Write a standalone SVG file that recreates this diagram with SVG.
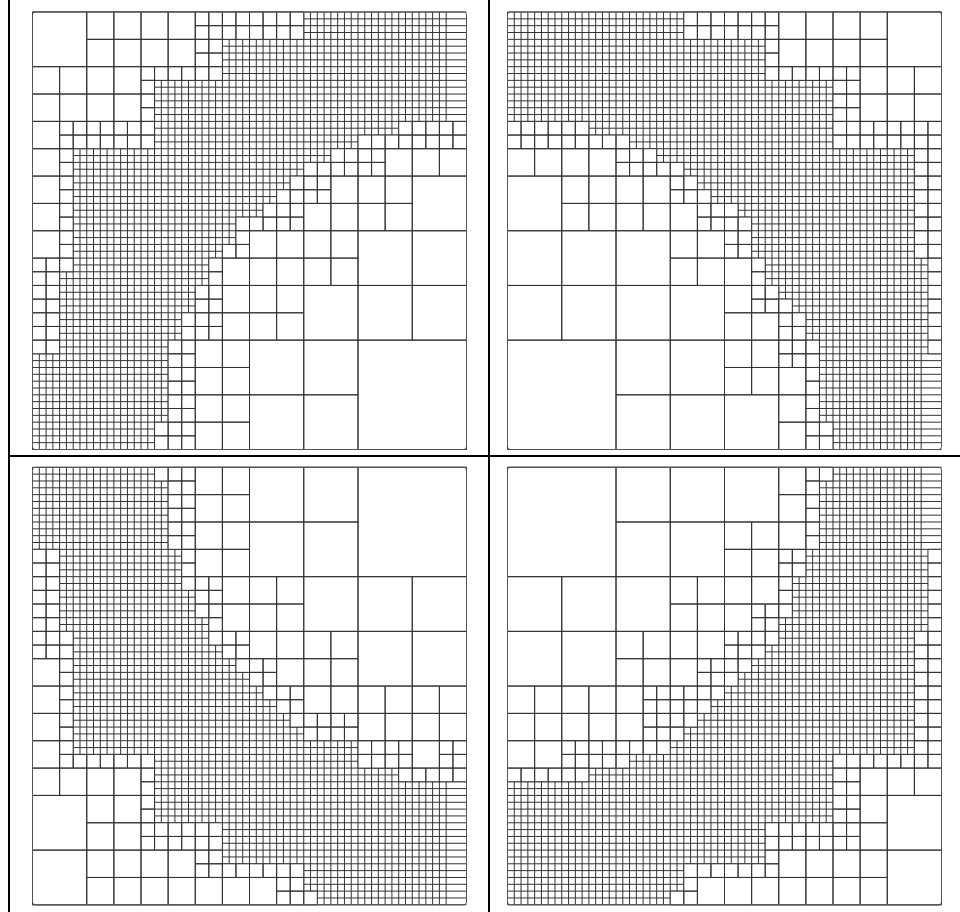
<svg xmlns="http://www.w3.org/2000/svg" xmlns:xlink="http://www.w3.org/1999/xlink" width="960" height="912" viewBox="0 0 960 912">
<style>
.g{fill:none;stroke:#333;stroke-width:1;vector-effect:non-scaling-stroke}
.c{fill:#fff;stroke:#333;stroke-width:1;vector-effect:non-scaling-stroke}
.b{fill:none;stroke:#555;stroke-width:1;vector-effect:non-scaling-stroke}
.t{stroke:#000;stroke-width:2}
</style>
<defs>
<path id="grid" class="g" d="M0 0v64m1-64v64m1-64v64m1-64v64m1-64v64m1-64v64m1-64v64m1-64v64m1-64v64m1-64v64m1-64v64m1-64v64m1-64v64m1-64v64m1-64v64m1-64v64m1-64v64m1-64v64m1-64v64m1-64v64m1-64v64m1-64v64m1-64v64m1-64v64m1-64v64m1-64v64m1-64v64m1-64v64m1-64v64m1-64v64m1-64v64m1-64v64m1-64v64m1-64v64m1-64v64m1-64v64m1-64v64m1-64v64m1-64v64m1-64v64m1-64v64m1-64v64m1-64v64m1-64v64m1-64v64m1-64v64m1-64v64m1-64v64m1-64v64m1-64v64m1-64v64m1-64v64m1-64v64m1-64v64m1-64v64m1-64v64m1-64v64m1-64v64m1-64v64m1-64v64m1-64v64m1-64v64M0 0h64m-64 1h64m-64 1h64m-64 1h64m-64 1h64m-64 1h64m-64 1h64m-64 1h64m-64 1h64m-64 1h64m-64 1h64m-64 1h64m-64 1h64m-64 1h64m-64 1h64m-64 1h64m-64 1h64m-64 1h64m-64 1h64m-64 1h64m-64 1h64m-64 1h64m-64 1h64m-64 1h64m-64 1h64m-64 1h64m-64 1h64m-64 1h64m-64 1h64m-64 1h64m-64 1h64m-64 1h64m-64 1h64m-64 1h64m-64 1h64m-64 1h64m-64 1h64m-64 1h64m-64 1h64m-64 1h64m-64 1h64m-64 1h64m-64 1h64m-64 1h64m-64 1h64m-64 1h64m-64 1h64m-64 1h64m-64 1h64m-64 1h64m-64 1h64m-64 1h64m-64 1h64m-64 1h64m-64 1h64m-64 1h64m-64 1h64m-64 1h64m-64 1h64m-64 1h64m-64 1h64m-64 1h64m-64 1h64m-64 1h64m-64 1h64"/>
</defs>
<g id="table">
<line class="t" x1="9" y1="0" x2="9" y2="912"/>
<line class="t" x1="489" y1="0" x2="489" y2="912"/>
<line class="t" x1="8" y1="456" x2="960" y2="456"/>
</g>
<g id="panel1" transform="translate(32.5,12) scale(6.78125,6.836)">
<use href="#grid"/>
<path class="c" d="M0 0h8v8h-8zM56 24h8v8h-8zM48 32h8v8h-8zM56 32h8v8h-8zM40 40h8v8h-8zM48 40h8v8h-8zM56 40h8v8h-8zM32 48h8v8h-8zM40 48h8v8h-8zM32 56h8v8h-8zM40 56h8v8h-8zM48 48h16v16h-16z
M8 0h4v4h-4zM12 0h4v4h-4zM16 0h4v4h-4zM20 0h4v4h-4zM8 4h4v4h-4zM12 4h4v4h-4zM16 4h4v4h-4zM20 4h4v4h-4z
M0 8h4v4h-4zM4 8h4v4h-4zM8 8h4v4h-4zM12 8h4v4h-4zM0 12h4v4h-4zM4 12h4v4h-4zM8 12h4v4h-4zM12 12h4v4h-4z
M0 16h4v4h-4zM0 20h4v4h-4zM0 24h4v4h-4zM0 28h4v4h-4zM0 32h4v4h-4z
M52 20h4v4h-4zM56 20h4v4h-4zM60 20h4v4h-4zM44 24h4v4h-4zM48 24h4v4h-4zM52 24h4v4h-4zM40 28h4v4h-4zM44 28h4v4h-4zM48 28h4v4h-4zM52 28h4v4h-4z
M32 32h4v4h-4zM36 32h4v4h-4zM40 32h4v4h-4zM44 32h4v4h-4zM28 36h4v4h-4zM32 36h4v4h-4zM36 36h4v4h-4zM40 36h4v4h-4zM44 36h4v4h-4z
M28 40h4v4h-4zM32 40h4v4h-4zM36 40h4v4h-4zM28 44h4v4h-4zM32 44h4v4h-4zM36 44h4v4h-4z
M24 48h4v4h-4zM28 48h4v4h-4zM24 52h4v4h-4zM28 52h4v4h-4zM24 56h4v4h-4zM28 56h4v4h-4zM24 60h4v4h-4zM28 60h4v4h-4z
M24 0h2v2h-2zM26 0h2v2h-2zM28 0h2v2h-2zM30 0h2v2h-2zM32 0h2v2h-2zM34 0h2v2h-2zM36 0h2v2h-2zM38 0h2v2h-2z
M24 2h2v2h-2zM26 2h2v2h-2zM28 2h2v2h-2zM30 2h2v2h-2zM32 2h2v2h-2zM34 2h2v2h-2zM36 2h2v2h-2zM38 2h2v2h-2z
M24 4h2v2h-2zM26 4h2v2h-2zM24 6h2v2h-2zM26 6h2v2h-2z
M16 8h2v2h-2zM18 8h2v2h-2zM20 8h2v2h-2zM22 8h2v2h-2zM24 8h2v2h-2zM26 8h2v2h-2zM16 10h2v2h-2zM16 12h2v2h-2zM16 14h2v2h-2z
M4 16h2v2h-2zM6 16h2v2h-2zM8 16h2v2h-2zM10 16h2v2h-2zM12 16h2v2h-2zM14 16h2v2h-2zM16 16h2v2h-2z
M4 18h2v2h-2zM6 18h2v2h-2zM8 18h2v2h-2zM10 18h2v2h-2zM12 18h2v2h-2zM14 18h2v2h-2zM16 18h2v2h-2z
M54 16h2v2h-2zM56 16h2v2h-2zM58 16h2v2h-2zM60 16h2v2h-2zM62 16h2v2h-2z
M48 18h2v2h-2zM50 18h2v2h-2zM52 18h2v2h-2zM54 18h2v2h-2zM56 18h2v2h-2zM58 18h2v2h-2zM60 18h2v2h-2zM62 18h2v2h-2z
M4 20h2v2h-2zM4 22h2v2h-2zM4 24h2v2h-2zM4 26h2v2h-2zM4 28h2v2h-2zM4 30h2v2h-2zM4 32h2v2h-2zM4 34h2v2h-2zM4 36h2v2h-2z
M44 20h2v2h-2zM46 20h2v2h-2zM48 20h2v2h-2zM50 20h2v2h-2zM40 22h2v2h-2zM42 22h2v2h-2zM44 22h2v2h-2zM46 22h2v2h-2zM48 22h2v2h-2zM50 22h2v2h-2z
M38 24h2v2h-2zM40 24h2v2h-2zM42 24h2v2h-2zM36 26h2v2h-2zM38 26h2v2h-2zM40 26h2v2h-2zM42 26h2v2h-2z
M34 28h2v2h-2zM36 28h2v2h-2zM38 28h2v2h-2zM30 30h2v2h-2zM32 30h2v2h-2zM34 30h2v2h-2zM36 30h2v2h-2zM38 30h2v2h-2z
M30 32h2v2h-2zM28 34h2v2h-2zM30 34h2v2h-2zM26 36h2v2h-2zM26 38h2v2h-2z
M0 36h2v2h-2zM2 36h2v2h-2zM0 38h2v2h-2zM2 38h2v2h-2zM0 40h2v2h-2zM2 40h2v2h-2zM0 42h2v2h-2zM2 42h2v2h-2zM0 44h2v2h-2zM2 44h2v2h-2zM0 46h2v2h-2zM2 46h2v2h-2zM0 48h2v2h-2zM2 48h2v2h-2z
M24 40h2v2h-2zM26 40h2v2h-2zM24 42h2v2h-2zM26 42h2v2h-2zM22 44h2v2h-2zM24 44h2v2h-2zM26 44h2v2h-2zM22 46h2v2h-2zM24 46h2v2h-2zM26 46h2v2h-2z
M20 48h2v2h-2zM22 48h2v2h-2zM20 50h2v2h-2zM22 50h2v2h-2zM20 52h2v2h-2zM22 52h2v2h-2zM20 54h2v2h-2zM22 54h2v2h-2zM20 56h2v2h-2zM22 56h2v2h-2zM20 58h2v2h-2zM22 58h2v2h-2zM18 60h2v2h-2zM20 60h2v2h-2zM22 60h2v2h-2zM18 62h2v2h-2zM20 62h2v2h-2zM22 62h2v2h-2z"/>
<rect class="b" width="64" height="64" rx="0.4"/>
</g>
<g id="panel2" transform="translate(507.5,12) scale(6.78125,6.836)">
<use href="#grid"/>
<path class="c" d="M0 48h16v16h-16zM56 0h8v8h-8zM0 24h8v8h-8zM0 32h8v8h-8zM8 32h8v8h-8zM16 32h8v8h-8zM0 40h8v8h-8zM8 40h8v8h-8zM16 40h8v8h-8zM24 40h8v8h-8zM16 48h8v8h-8zM24 48h8v8h-8zM16 56h8v8h-8zM24 56h8v8h-8zM32 56h8v8h-8z
M40 0h4v4h-4zM44 0h4v4h-4zM48 0h4v4h-4zM52 0h4v4h-4zM40 4h4v4h-4zM44 4h4v4h-4zM48 4h4v4h-4zM52 4h4v4h-4zM52 8h4v4h-4zM56 8h4v4h-4zM60 8h4v4h-4zM52 12h4v4h-4zM56 12h4v4h-4zM60 12h4v4h-4z
M0 20h4v4h-4zM4 20h4v4h-4zM8 20h4v4h-4zM12 20h4v4h-4zM8 24h4v4h-4zM12 24h4v4h-4zM8 28h4v4h-4zM12 28h4v4h-4zM16 24h4v4h-4zM20 24h4v4h-4zM16 28h4v4h-4zM20 28h4v4h-4zM24 28h4v4h-4z
M24 32h4v4h-4zM28 32h4v4h-4zM24 36h4v4h-4zM28 36h4v4h-4zM32 36h4v4h-4zM32 40h4v4h-4zM32 44h4v4h-4zM36 44h4v4h-4zM32 48h4v4h-4zM36 48h4v4h-4zM32 52h4v4h-4zM36 52h4v4h-4zM40 52h4v4h-4zM40 56h4v4h-4zM40 60h4v4h-4z
M26 0h2v2h-2zM28 0h2v2h-2zM30 0h2v2h-2zM32 0h2v2h-2zM34 0h2v2h-2zM36 0h2v2h-2zM38 0h2v2h-2zM26 2h2v2h-2zM28 2h2v2h-2zM30 2h2v2h-2zM32 2h2v2h-2zM34 2h2v2h-2zM36 2h2v2h-2zM38 2h2v2h-2zM38 4h2v2h-2zM38 6h2v2h-2z
M38 8h2v2h-2zM40 8h2v2h-2zM42 8h2v2h-2zM44 8h2v2h-2zM46 8h2v2h-2zM48 8h2v2h-2zM50 8h2v2h-2zM48 10h2v2h-2zM50 10h2v2h-2zM48 12h2v2h-2zM50 12h2v2h-2zM48 14h2v2h-2zM50 14h2v2h-2z
M0 16h2v2h-2zM2 16h2v2h-2zM4 16h2v2h-2zM6 16h2v2h-2zM8 16h2v2h-2zM10 16h2v2h-2zM0 18h2v2h-2zM2 18h2v2h-2zM4 18h2v2h-2zM6 18h2v2h-2zM8 18h2v2h-2zM10 18h2v2h-2zM12 18h2v2h-2zM14 18h2v2h-2zM16 18h2v2h-2z
M48 16h2v2h-2zM50 16h2v2h-2zM52 16h2v2h-2zM54 16h2v2h-2zM56 16h2v2h-2zM58 16h2v2h-2zM60 16h2v2h-2zM62 16h2v2h-2zM48 18h2v2h-2zM50 18h2v2h-2zM52 18h2v2h-2zM54 18h2v2h-2zM56 18h2v2h-2zM58 18h2v2h-2zM60 18h2v2h-2zM62 18h2v2h-2z
M16 20h2v2h-2zM18 20h2v2h-2zM20 20h2v2h-2zM16 22h2v2h-2zM18 22h2v2h-2zM20 22h2v2h-2zM22 22h2v2h-2zM24 22h2v2h-2zM60 20h2v2h-2zM62 20h2v2h-2zM60 22h2v2h-2zM62 22h2v2h-2z
M24 24h2v2h-2zM26 24h2v2h-2zM24 26h2v2h-2zM26 26h2v2h-2zM28 26h2v2h-2zM28 28h2v2h-2zM30 28h2v2h-2zM32 28h2v2h-2zM28 30h2v2h-2zM30 30h2v2h-2zM32 30h2v2h-2zM34 30h2v2h-2z
M60 24h2v2h-2zM62 24h2v2h-2zM60 26h2v2h-2zM62 26h2v2h-2zM60 28h2v2h-2zM62 28h2v2h-2zM60 30h2v2h-2zM62 30h2v2h-2zM60 32h2v2h-2zM62 32h2v2h-2zM60 34h2v2h-2zM62 34h2v2h-2zM62 36h2v2h-2zM62 38h2v2h-2zM62 40h2v2h-2z
M32 32h2v2h-2zM34 32h2v2h-2zM32 34h2v2h-2zM34 34h2v2h-2zM36 36h2v2h-2zM36 38h2v2h-2z
M36 40h2v2h-2zM38 40h2v2h-2zM36 42h2v2h-2zM38 42h2v2h-2zM40 42h2v2h-2zM62 42h2v2h-2zM40 44h2v2h-2zM42 44h2v2h-2zM40 46h2v2h-2zM42 46h2v2h-2zM62 44h2v2h-2zM62 46h2v2h-2zM62 48h2v2h-2z
M40 48h2v2h-2zM42 48h2v2h-2zM40 50h2v2h-2zM42 50h2v2h-2zM44 48h2v2h-2zM44 50h2v2h-2zM44 52h2v2h-2zM44 54h2v2h-2zM44 56h2v2h-2zM44 58h2v2h-2zM44 60h2v2h-2zM46 60h2v2h-2zM44 62h2v2h-2zM46 62h2v2h-2z"/>
<rect class="b" width="64" height="64" rx="0.4"/>
</g>
<g id="panel3" transform="translate(32.5,467.3) scale(6.78125,6.836)">
<use href="#grid"/>
<path class="c" d="M48 0h16v16h-16zM32 0h8v8h-8zM40 0h8v8h-8zM32 8h8v8h-8zM40 8h8v8h-8zM40 16h8v8h-8zM48 16h8v8h-8zM56 16h8v8h-8zM48 24h8v8h-8zM56 24h8v8h-8zM0 48h8v8h-8zM0 56h8v8h-8z
M24 0h4v4h-4zM28 0h4v4h-4zM24 4h4v4h-4zM28 4h4v4h-4zM24 8h4v4h-4zM28 8h4v4h-4zM24 12h4v4h-4zM28 12h4v4h-4zM28 16h4v4h-4zM32 16h4v4h-4zM36 16h4v4h-4zM28 20h4v4h-4zM32 20h4v4h-4zM36 20h4v4h-4z
M32 24h4v4h-4zM36 24h4v4h-4zM40 24h4v4h-4zM44 24h4v4h-4zM36 28h4v4h-4zM40 28h4v4h-4zM44 28h4v4h-4zM0 28h4v4h-4zM0 32h4v4h-4zM0 36h4v4h-4zM0 40h4v4h-4z
M40 32h4v4h-4zM44 32h4v4h-4zM48 32h4v4h-4zM52 32h4v4h-4zM56 32h4v4h-4zM60 32h4v4h-4zM48 36h4v4h-4zM52 36h4v4h-4zM56 36h4v4h-4zM60 36h4v4h-4zM56 40h4v4h-4z
M0 44h4v4h-4zM4 44h4v4h-4zM8 44h4v4h-4zM12 44h4v4h-4zM8 48h4v4h-4zM12 48h4v4h-4zM8 52h4v4h-4zM12 52h4v4h-4zM8 56h4v4h-4zM12 56h4v4h-4zM8 60h4v4h-4zM12 60h4v4h-4zM16 56h4v4h-4zM20 56h4v4h-4zM16 60h4v4h-4zM20 60h4v4h-4zM24 60h4v4h-4zM28 60h4v4h-4zM32 60h4v4h-4z
M18 0h2v2h-2zM20 0h2v2h-2zM22 0h2v2h-2zM20 2h2v2h-2zM22 2h2v2h-2zM20 4h2v2h-2zM22 4h2v2h-2zM20 6h2v2h-2zM22 6h2v2h-2zM20 8h2v2h-2zM22 8h2v2h-2zM20 10h2v2h-2zM22 10h2v2h-2zM22 12h2v2h-2zM22 14h2v2h-2z
M0 12h2v2h-2zM2 12h2v2h-2zM0 14h2v2h-2zM2 14h2v2h-2zM0 16h2v2h-2zM2 16h2v2h-2zM0 18h2v2h-2zM2 18h2v2h-2zM0 20h2v2h-2zM2 20h2v2h-2zM0 22h2v2h-2zM2 22h2v2h-2zM0 24h2v2h-2zM2 24h2v2h-2zM0 26h2v2h-2zM2 26h2v2h-2z
M22 16h2v2h-2zM24 16h2v2h-2zM26 16h2v2h-2zM24 18h2v2h-2zM26 18h2v2h-2zM24 20h2v2h-2zM26 20h2v2h-2zM26 22h2v2h-2z
M4 24h2v2h-2zM4 26h2v2h-2zM4 28h2v2h-2zM4 30h2v2h-2zM4 32h2v2h-2zM4 34h2v2h-2zM4 36h2v2h-2zM4 38h2v2h-2zM4 40h2v2h-2z
M26 24h2v2h-2zM28 24h2v2h-2zM30 24h2v2h-2zM28 26h2v2h-2zM30 26h2v2h-2zM30 28h2v2h-2zM32 28h2v2h-2zM34 28h2v2h-2zM32 30h2v2h-2zM34 30h2v2h-2z
M34 32h2v2h-2zM36 32h2v2h-2zM38 32h2v2h-2zM36 34h2v2h-2zM38 34h2v2h-2zM38 36h2v2h-2zM40 36h2v2h-2zM42 36h2v2h-2zM44 36h2v2h-2zM46 36h2v2h-2zM40 38h2v2h-2zM42 38h2v2h-2zM44 38h2v2h-2zM46 38h2v2h-2z
M48 40h2v2h-2zM50 40h2v2h-2zM52 40h2v2h-2zM54 40h2v2h-2zM60 40h2v2h-2zM62 40h2v2h-2zM48 42h2v2h-2zM50 42h2v2h-2zM52 42h2v2h-2zM54 42h2v2h-2zM60 42h2v2h-2zM62 42h2v2h-2zM54 44h2v2h-2zM56 44h2v2h-2zM58 44h2v2h-2zM60 44h2v2h-2zM62 44h2v2h-2z
M4 42h2v2h-2zM6 42h2v2h-2zM8 42h2v2h-2zM10 42h2v2h-2zM12 42h2v2h-2zM14 42h2v2h-2zM16 42h2v2h-2zM16 44h2v2h-2zM16 46h2v2h-2zM16 48h2v2h-2zM16 50h2v2h-2z
M16 52h2v2h-2zM18 52h2v2h-2zM20 52h2v2h-2zM22 52h2v2h-2zM24 52h2v2h-2zM26 52h2v2h-2zM16 54h2v2h-2zM18 54h2v2h-2zM20 54h2v2h-2zM22 54h2v2h-2zM24 54h2v2h-2zM26 54h2v2h-2z
M24 56h2v2h-2zM26 56h2v2h-2zM24 58h2v2h-2zM26 58h2v2h-2zM28 58h2v2h-2zM30 58h2v2h-2zM32 58h2v2h-2zM34 58h2v2h-2zM36 58h2v2h-2zM38 58h2v2h-2zM36 60h2v2h-2zM38 60h2v2h-2zM36 62h2v2h-2zM38 62h2v2h-2zM40 62h2v2h-2z"/>
<rect class="b" width="64" height="64" rx="0.4"/>
</g>
<g id="panel4" transform="translate(507.5,467.3) scale(6.78125,6.836)">
<use href="#grid"/>
<path class="c" d="M0 0h16v16h-16zM16 0h8v8h-8zM24 0h8v8h-8zM32 0h8v8h-8zM16 8h8v8h-8zM24 8h8v8h-8zM0 16h8v8h-8zM8 16h8v8h-8zM16 16h8v8h-8zM0 24h8v8h-8zM8 24h8v8h-8zM56 48h8v8h-8zM56 56h8v8h-8z
M40 0h4v4h-4zM40 4h4v4h-4zM40 8h4v4h-4zM32 8h4v4h-4zM36 8h4v4h-4zM32 12h4v4h-4zM36 12h4v4h-4zM24 16h4v4h-4zM28 16h4v4h-4zM32 16h4v4h-4zM36 16h4v4h-4zM24 20h4v4h-4zM28 20h4v4h-4zM32 20h4v4h-4z
M16 24h4v4h-4zM20 24h4v4h-4zM16 28h4v4h-4zM20 28h4v4h-4zM24 24h4v4h-4zM28 24h4v4h-4zM24 28h4v4h-4zM0 32h4v4h-4zM4 32h4v4h-4zM0 36h4v4h-4zM4 36h4v4h-4zM8 32h4v4h-4zM12 32h4v4h-4zM8 36h4v4h-4zM12 36h4v4h-4zM16 32h4v4h-4zM16 36h4v4h-4zM0 40h4v4h-4zM4 40h4v4h-4z
M52 44h4v4h-4zM56 44h4v4h-4zM60 44h4v4h-4zM52 48h4v4h-4zM52 52h4v4h-4zM40 56h4v4h-4zM44 56h4v4h-4zM48 56h4v4h-4zM52 56h4v4h-4zM28 60h4v4h-4zM32 60h4v4h-4zM36 60h4v4h-4zM40 60h4v4h-4zM44 60h4v4h-4zM48 60h4v4h-4zM52 60h4v4h-4z
M44 0h2v2h-2zM46 0h2v2h-2zM44 2h2v2h-2zM44 4h2v2h-2zM44 6h2v2h-2zM44 8h2v2h-2zM44 10h2v2h-2zM40 12h2v2h-2zM42 12h2v2h-2zM40 14h2v2h-2zM42 14h2v2h-2zM62 12h2v2h-2zM62 14h2v2h-2zM62 16h2v2h-2zM62 18h2v2h-2z
M40 16h2v2h-2zM40 18h2v2h-2zM40 20h2v2h-2zM36 20h2v2h-2zM38 20h2v2h-2zM36 22h2v2h-2zM38 22h2v2h-2z
M32 24h2v2h-2zM34 24h2v2h-2zM36 24h2v2h-2zM38 24h2v2h-2zM32 26h2v2h-2zM34 26h2v2h-2zM36 26h2v2h-2zM28 28h2v2h-2zM30 28h2v2h-2zM32 28h2v2h-2zM34 28h2v2h-2zM28 30h2v2h-2zM30 30h2v2h-2zM32 30h2v2h-2z
M20 32h2v2h-2zM22 32h2v2h-2zM20 34h2v2h-2zM22 34h2v2h-2zM24 32h2v2h-2zM26 32h2v2h-2zM28 32h2v2h-2zM30 32h2v2h-2zM24 34h2v2h-2zM26 34h2v2h-2zM28 34h2v2h-2zM20 36h2v2h-2zM22 36h2v2h-2zM24 36h2v2h-2zM26 36h2v2h-2zM20 38h2v2h-2zM22 38h2v2h-2zM24 38h2v2h-2z
M8 40h2v2h-2zM10 40h2v2h-2zM12 40h2v2h-2zM14 40h2v2h-2zM16 40h2v2h-2zM18 40h2v2h-2zM20 40h2v2h-2zM22 40h2v2h-2zM8 42h2v2h-2zM10 42h2v2h-2zM12 42h2v2h-2zM14 42h2v2h-2zM16 42h2v2h-2z
M0 44h2v2h-2zM2 44h2v2h-2zM4 44h2v2h-2zM6 44h2v2h-2zM8 44h2v2h-2zM10 44h2v2h-2z
M62 20h2v2h-2zM62 22h2v2h-2zM60 24h2v2h-2zM62 24h2v2h-2zM60 26h2v2h-2zM62 26h2v2h-2zM60 28h2v2h-2zM62 28h2v2h-2zM60 30h2v2h-2zM62 30h2v2h-2zM60 32h2v2h-2zM62 32h2v2h-2zM60 34h2v2h-2zM62 34h2v2h-2zM60 36h2v2h-2zM62 36h2v2h-2zM60 38h2v2h-2zM62 38h2v2h-2z
M60 40h2v2h-2zM62 40h2v2h-2zM48 42h2v2h-2zM50 42h2v2h-2zM52 42h2v2h-2zM54 42h2v2h-2zM56 42h2v2h-2zM58 42h2v2h-2zM60 42h2v2h-2zM62 42h2v2h-2z
M48 44h2v2h-2zM50 44h2v2h-2zM48 46h2v2h-2zM50 46h2v2h-2zM48 48h2v2h-2zM50 48h2v2h-2zM48 50h2v2h-2zM50 50h2v2h-2z
M38 52h2v2h-2zM40 52h2v2h-2zM42 52h2v2h-2zM44 52h2v2h-2zM46 52h2v2h-2zM48 52h2v2h-2zM50 52h2v2h-2zM38 54h2v2h-2zM40 54h2v2h-2zM42 54h2v2h-2zM44 54h2v2h-2zM46 54h2v2h-2zM48 54h2v2h-2zM50 54h2v2h-2z
M38 56h2v2h-2zM26 58h2v2h-2zM28 58h2v2h-2zM30 58h2v2h-2zM32 58h2v2h-2zM34 58h2v2h-2zM36 58h2v2h-2zM38 58h2v2h-2zM26 60h2v2h-2zM26 62h2v2h-2zM24 62h2v2h-2z"/>
<rect class="b" width="64" height="64" rx="0.4"/>
</g>
</svg>
